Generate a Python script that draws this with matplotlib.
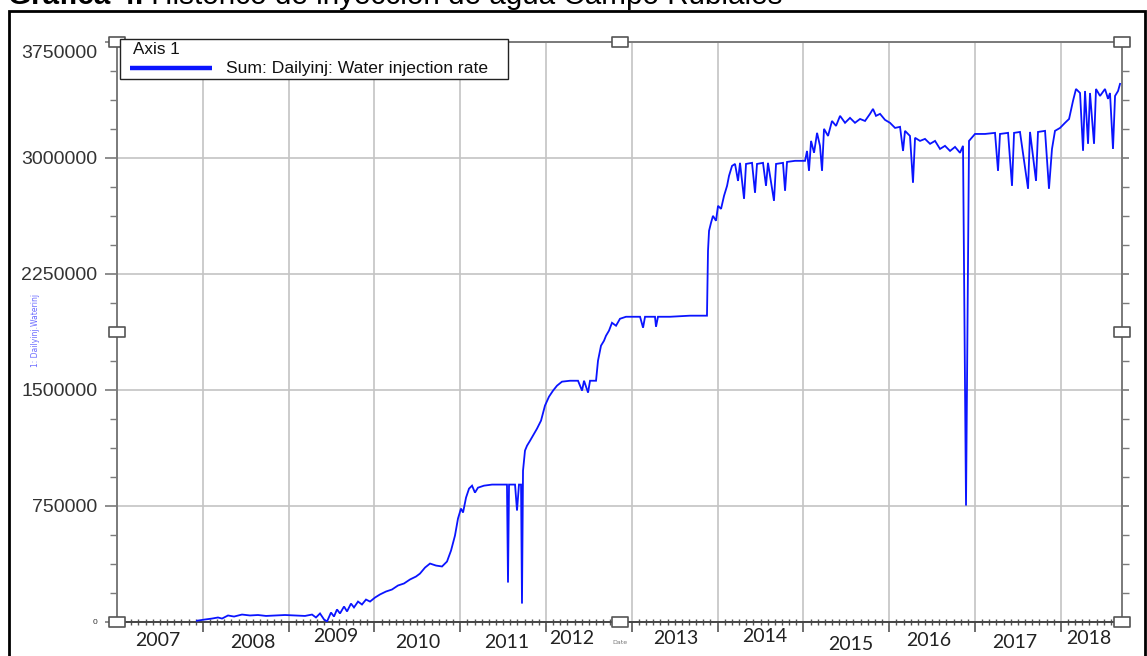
import matplotlib
matplotlib.use("Agg")
import matplotlib.pyplot as plt
from matplotlib.path import Path
from matplotlib.patches import Rectangle
from matplotlib.lines import Line2D
import matplotlib.transforms as mtransforms
import numpy as np

# ---------------- data ----------------
title_bold = "Gráfica 4."
title_rest = " Histórico de inyección de agua Campo Rubiales"
series_name = "Sum: Dailyinj: Water injection rate"
legend_title = "Axis 1"
y_axis_label = "1: Dailyinj.Waterinj"
x_axis_label = "Date"

year_labels = ["2007", "2008", "2009", "2010", "2011", "2012",
               "2013", "2014", "2015", "2016", "2017", "2018"]
year_label_pos = [2007.48, 2008.585, 2009.552, 2010.508, 2011.545, 2012.303,
                  2013.515, 2014.552, 2015.555, 2016.464, 2017.466, 2018.329]
y_ticks = [0, 750000, 1500000, 2250000, 3000000, 3750000]
y_tick_labels = ["0", "750000", "1500000", "2250000", "3000000", "3750000"]

inj_year = [
    2007.932, 2008.026, 2008.107, 2008.177, 2008.224, 2008.294, 2008.364, 2008.457,
    2008.550, 2008.643, 2008.737, 2008.841, 2008.958, 2009.075, 2009.191, 2009.273,
    2009.319, 2009.366, 2009.413, 2009.448, 2009.494, 2009.529, 2009.564, 2009.599,
    2009.646, 2009.681, 2009.727, 2009.762, 2009.809, 2009.855, 2009.902, 2009.949,
    2010.007, 2010.065, 2010.135, 2010.205, 2010.275, 2010.345, 2010.415, 2010.485,
    2010.531, 2010.590, 2010.648, 2010.718, 2010.788, 2010.846, 2010.893, 2010.939,
    2010.974, 2011.009, 2011.033, 2011.068, 2011.103, 2011.138, 2011.172, 2011.207,
    2011.277, 2011.371, 2011.464, 2011.545, 2011.557, 2011.569, 2011.639, 2011.662,
    2011.685, 2011.709, 2011.720, 2011.732, 2011.755, 2011.779, 2011.814, 2011.848,
    2011.895, 2011.942, 2011.988, 2012.035, 2012.082, 2012.128, 2012.186, 2012.280,
    2012.373, 2012.420, 2012.443, 2012.490, 2012.513, 2012.583, 2012.606, 2012.641,
    2012.676, 2012.699, 2012.734, 2012.769, 2012.816, 2012.862, 2012.932, 2013.002,
    2013.096, 2013.131, 2013.154, 2013.270, 2013.282, 2013.305, 2013.445, 2013.678,
    2013.876, 2013.888, 2013.900, 2013.923, 2013.946, 2013.981, 2014.005, 2014.040,
    2014.075, 2014.110, 2014.133, 2014.168, 2014.203, 2014.238, 2014.261, 2014.308,
    2014.331, 2014.401, 2014.436, 2014.459, 2014.529, 2014.564, 2014.587, 2014.657,
    2014.681, 2014.762, 2014.786, 2014.809, 2014.902, 2015.019, 2015.042, 2015.065,
    2015.089, 2015.124, 2015.159, 2015.193, 2015.217, 2015.240, 2015.287, 2015.333,
    2015.380, 2015.427, 2015.485, 2015.543, 2015.601, 2015.660, 2015.718, 2015.776,
    2015.811, 2015.846, 2015.893, 2015.951, 2016.009, 2016.068, 2016.126, 2016.161,
    2016.184, 2016.242, 2016.277, 2016.301, 2016.359, 2016.417, 2016.476, 2016.534,
    2016.592, 2016.650, 2016.709, 2016.767, 2016.825, 2016.860, 2016.895, 2016.930,
    2017.000, 2017.117, 2017.233, 2017.268, 2017.291, 2017.385, 2017.431, 2017.455,
    2017.524, 2017.618, 2017.641, 2017.711, 2017.734, 2017.816, 2017.862, 2017.897,
    2017.932, 2017.991, 2018.049, 2018.096, 2018.142, 2018.177, 2018.224, 2018.259,
    2018.282, 2018.317, 2018.340, 2018.387, 2018.410, 2018.457, 2018.515, 2018.550,
    2018.573, 2018.608, 2018.632, 2018.667, 2018.690,
]
inj_rate_k = [
    5, 13, 19, 26, 19, 39, 32, 45,
    39, 42, 36, 39, 42, 39, 36, 45,
    26, 52, 13, 0, 58, 32, 78, 52,
    97, 65, 116, 91, 129, 110, 142, 129,
    155, 175, 194, 207, 233, 246, 272, 291,
    310, 349, 375, 362, 356, 388, 459, 556,
    666, 731, 705, 802, 860, 879, 834, 866,
    879, 886, 886, 886, 252, 886, 886, 718,
    886, 886, 116, 976, 1106, 1138, 1170, 1203,
    1248, 1300, 1397, 1455, 1494, 1526, 1552, 1558,
    1558, 1494, 1558, 1481, 1558, 1558, 1688, 1785,
    1817, 1849, 1882, 1933, 1914, 1959, 1972, 1972,
    1972, 1901, 1972, 1972, 1907, 1972, 1972, 1979,
    1979, 2399, 2528, 2580, 2625, 2593, 2690, 2670,
    2755, 2819, 2884, 2948, 2961, 2851, 2968, 2735,
    2961, 2968, 2774, 2961, 2968, 2819, 2968, 2722,
    2961, 2968, 2787, 2974, 2981, 2981, 3045, 2916,
    3110, 3033, 3162, 3078, 2916, 3188, 3142, 3239,
    3207, 3272, 3227, 3259, 3227, 3252, 3239, 3285,
    3317, 3272, 3285, 3246, 3227, 3194, 3201, 3045,
    3175, 3142, 2839, 3130, 3110, 3123, 3091, 3110,
    3058, 3078, 3045, 3071, 3033, 3078, 750, 3110,
    3155, 3155, 3162, 2916, 3155, 3162, 2819, 3162,
    3168, 2800, 3168, 2851, 3168, 3175, 2800, 3058,
    3175, 3194, 3227, 3252, 3369, 3446, 3420, 3046,
    3433, 3091, 3420, 3091, 3446, 3401, 3446, 3382,
    3420, 3058, 3401, 3433, 3479,
]
assert len(inj_year) == len(inj_rate_k)
inj_rate = np.array(inj_rate_k, dtype=float) * 1000.0

# ---------------- figure ----------------
W, H = 1147, 656
fig = plt.figure(figsize=(W / 100, H / 100), dpi=100)
fig.patch.set_facecolor("white")

def fx(px):
    return px / W

def fy(py):
    return 1 - py / H

ax_l, ax_r, ax_t, ax_b = 117, 1122, 42, 621.5
ax = fig.add_axes([fx(ax_l), fy(ax_b), fx(ax_r - ax_l), (ax_b - ax_t) / H])

LINE_BLUE = "#0a14ff"
GRID = "#c4c4c4"
SPINE = "#7a7a7a"
TXT = "#333333"

ax.plot(inj_year, inj_rate, color=LINE_BLUE, lw=1.3, zorder=3,
        solid_joinstyle="miter")

ax.set_xlim(2007.0, 2018.713)
ax.set_ylim(0, 3750000)

# grid & ticks
ax.set_xticks(np.arange(2008, 2019))
ax.set_xticks(np.arange(2007, 2018.72, 1 / 12), minor=True)
ax.set_xticklabels([])
ax.set_yticks(y_ticks)
ax.set_yticks(np.arange(0, 3750001, 187500), minor=True)
ax.set_yticklabels(y_tick_labels, fontsize=14, color=TXT,
                   family=["Liberation Sans", "DejaVu Sans"])
ax.grid(True, which="major", color=GRID, lw=1.2, zorder=0)
ax.set_axisbelow(True)

ax.tick_params(axis="x", which="major", direction="out", length=7, width=1.2,
               color="#555555", bottom=True, top=False)
ax.tick_params(axis="x", which="minor", direction="inout", length=4, width=1.0,
               color="#555555", bottom=True, top=False)
ax.tick_params(axis="y", which="major", direction="out", length=9, width=1.2,
               color=SPINE, left=True, right=True, pad=5)
ax.tick_params(axis="y", which="minor", direction="out", length=5, width=1.0,
               color=SPINE, left=True, right=True)
for t in ax.yaxis.get_major_ticks():
    t.tick2line.set_markersize(5)

for side in ["left", "right", "top"]:
    ax.spines[side].set_color(SPINE)
    ax.spines[side].set_linewidth(1.4)
ax.spines["bottom"].set_color("#444444")
ax.spines["bottom"].set_linewidth(1.4)

# special tick labels: tiny "0", shifted "3750000"
labs = ax.get_yticklabels()
labs[0].set_fontsize(6)
labs[-1].set_transform(labs[-1].get_transform() +
                       mtransforms.ScaledTranslation(0, -10 / 100, fig.dpi_scale_trans))

# year labels
year_dy = [0, 3, -3, 3, 3, -2, -2, -3, 5, 0, 3, -2]
for lab, pos, dy in zip(year_labels, year_label_pos, year_dy):
    trans = mtransforms.blended_transform_factory(ax.transData, fig.transFigure)
    ax.text(pos, fy(640 + dy), lab, transform=trans, ha="center", va="center",
            fontsize=14, color="#222222", family=["Lato", "DejaVu Sans"], clip_on=False)

fig.text(fx(620), fy(643), x_axis_label, fontsize=4.5, color="#777777",
         ha="center", va="center")
fig.text(fx(35), fy(330), y_axis_label, fontsize=5.5, color="#6a6aff",
         rotation=90, ha="center", va="center")

# selection handles
hw, hh = 1.6, 1.0
handle = Path([(-hw, -hh), (hw, -hh), (hw, hh), (-hw, hh), (-hw, -hh)],
              [Path.MOVETO, Path.LINETO, Path.LINETO, Path.LINETO, Path.CLOSEPOLY])
for (hx, hy) in [(0, 0), (0, 0.5), (0, 1), (0.5, 1), (1, 1), (1, 0.5), (0.5, 0), (1, 0)]:
    ax.plot([hx], [hy], transform=ax.transAxes, marker=handle, markersize=11,
            markerfacecolor="white", markeredgecolor="#555555", markeredgewidth=1.2,
            clip_on=False, zorder=6, linestyle="none")

# legend box (manual)
fig.patches.append(Rectangle((fx(120), fy(79)), fx(508 - 120), (79 - 39) / H,
                             transform=fig.transFigure, facecolor="white",
                             edgecolor="#222222", lw=1.0, zorder=10))
fig.text(fx(133), fy(49), legend_title, fontsize=12.3, color="#111111",
         ha="left", va="center", family=["Liberation Sans", "DejaVu Sans"], zorder=11)
fig.lines.append(Line2D([fx(130), fx(212)], [fy(68), fy(68)], transform=fig.transFigure,
                        color=LINE_BLUE, lw=3.2, solid_capstyle="butt", zorder=11))
fig.text(fx(226), fy(68), series_name, fontsize=12.6, color="#111111",
         ha="left", va="center", family=["Liberation Sans", "DejaVu Sans"], zorder=11)

# outer frame
fig.patches.append(Rectangle((fx(9), fy(700)), fx(1145 - 9), (700 - 10.5) / H,
                             transform=fig.transFigure, facecolor="none",
                             edgecolor="black", lw=2.0, zorder=20, clip_on=False))

# title (clipped at top, as in the source screenshot)
t1 = fig.text(fx(8), fy(4), title_bold, fontsize=21.3, fontweight="bold",
              ha="left", va="baseline", family=["Liberation Sans", "DejaVu Sans"])
fig.canvas.draw()
bb = t1.get_window_extent()
fig.text(bb.x1 / W, fy(4), title_rest, fontsize=21.3,
         ha="left", va="baseline", family=["Liberation Sans", "DejaVu Sans"])

fig.savefig("out.png", dpi=100, facecolor="white")
